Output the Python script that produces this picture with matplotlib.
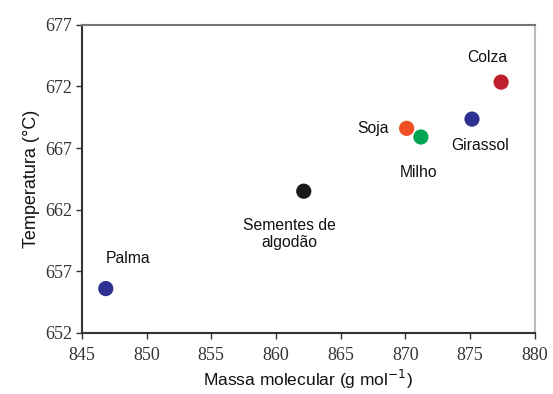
import matplotlib.pyplot as plt
import numpy as np

# oleos: massa molecular vs temperatura
nomes = ["Palma", "Sementes de\nalgodão", "Soja", "Milho", "Girassol", "Colza"]
massa = [846.85, 862.15, 870.1, 871.2, 875.15, 877.4]
temperatura = [655.6, 663.5, 668.6, 667.9, 669.35, 672.35]
cores = ["#2e3192", "#1a1a1a", "#f04e23", "#00a651", "#2e3192", "#be1e2d"]
# deslocamento dos rotulos (pixels)
desloc = [(22, 30), (-14, -43), (-34, 0), (-2, -36), (8, -26), (-14, 25)]

xticks = np.arange(845, 881, 5)
yticks = np.arange(652, 678, 5)

fig = plt.figure(figsize=(5.53, 3.94), dpi=100)
ax = fig.add_axes([0.148, 0.155, 0.819, 0.782])

ax.scatter(massa, temperatura, s=120, c=cores, edgecolors="none", zorder=3)

for nome, x, y, d in zip(nomes, massa, temperatura, desloc):
    ax.annotate(nome, (x, y), xytext=d, textcoords="offset pixels",
                ha="center", va="center", fontsize=11.3,
                family="Liberation Sans", color="#111111", linespacing=1.2)

ax.set_xlim(845, 880)
ax.set_ylim(652, 677)
ax.set_xticks(xticks)
ax.set_yticks(yticks)
for lab in ax.get_xticklabels() + ax.get_yticklabels():
    lab.set_family("Liberation Serif")
    lab.set_fontsize(13)
    lab.set_color("#333333")

ax.tick_params(direction="out", length=4, width=1, color="#333333")
ax.tick_params(axis="x", pad=6)
ax.tick_params(axis="y", pad=3)

for s in ["left", "bottom"]:
    ax.spines[s].set_color("#333333")
    ax.spines[s].set_linewidth(1.5)
ax.spines["top"].set_color("#777777")
ax.spines["top"].set_linewidth(1.5)
ax.spines["right"].set_color("#bbbbbb")
ax.spines["right"].set_linewidth(1.5)

ax.set_xlabel("Massa molecular (g mol$^{-1}$)", family="Liberation Sans",
              fontsize=12.5, color="#111111", labelpad=3)
ax.set_ylabel("Temperatura (°C)", family="Liberation Sans",
              fontsize=13, color="#111111", labelpad=4)

fig.savefig("out.png", dpi=100)
